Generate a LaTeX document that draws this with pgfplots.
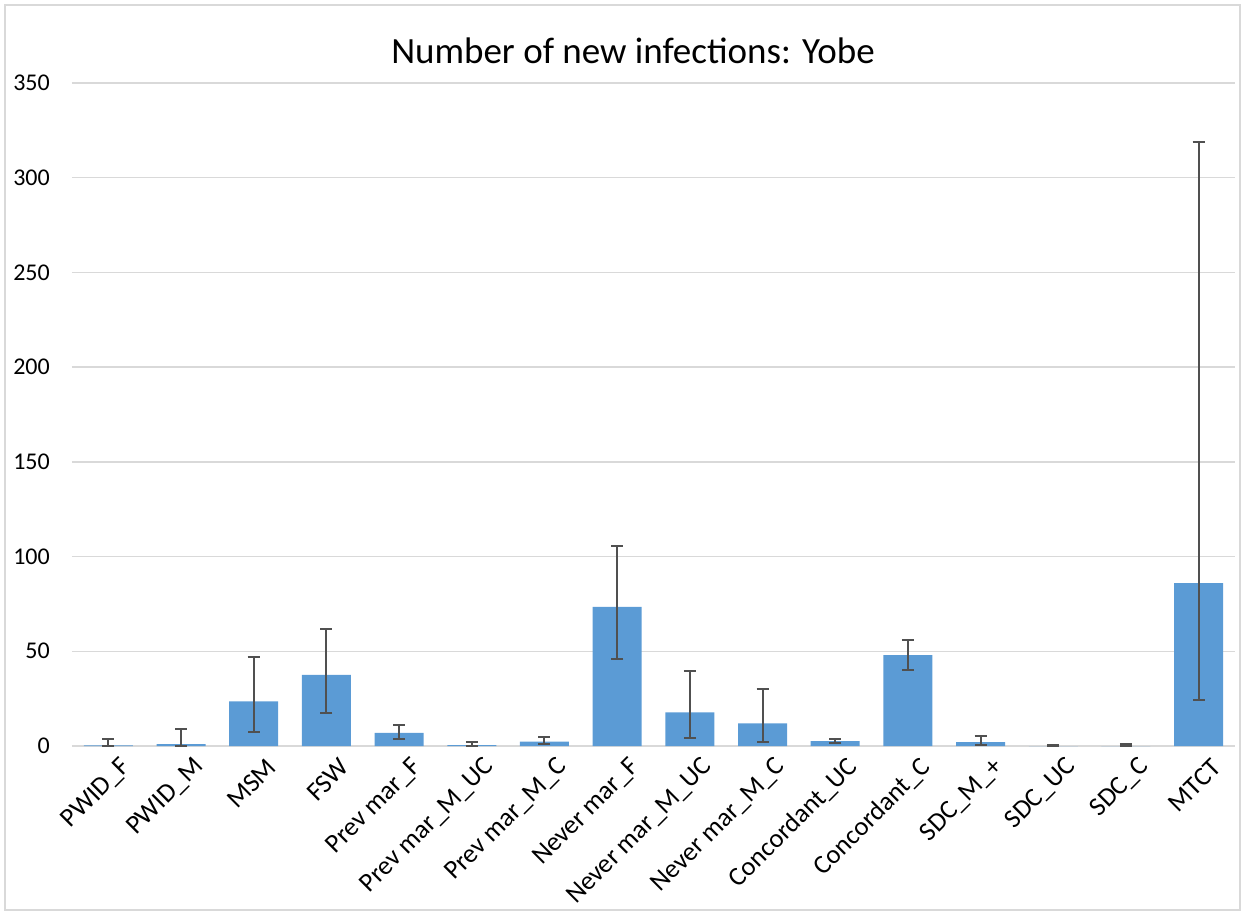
\documentclass[border=0pt]{standalone}
\usepackage{fontspec}
\setmainfont{Carlito}
\usepackage{pgfplots}
\pgfplotsset{compat=1.18}
\usepackage{pgfplotstable}
\definecolor{barblue}{HTML}{5B9BD5}
\definecolor{errgray}{HTML}{505050}
\definecolor{gridgray}{HTML}{D9D9D9}
\pgfplotstableread{
x y ep em
0 0.3 3.2 0.3
1 1.0 8.1 1.0
2 23.6 23.4 16.0
3 37.5 24.5 19.9
4 6.9 4.4 3.0
5 0.5 1.6 0.5
6 2.3 2.6 1.3
7 73.5 32.1 27.5
8 17.8 21.8 13.4
9 12.0 18.1 9.7
10 2.6 1.3 0.8
11 48.0 8.0 8.0
12 2.1 3.3 1.4
13 0.0 0.5 0.0
14 0.0 1.0 0.0
15 86.0 233.0 61.5
}\data
\begin{document}
\begin{tikzpicture}[x=1pt,y=1pt]
\useasboundingbox (-72,-165) rectangle (1169,746);
\draw[gridgray, line width=1.5pt] (-67,-164) rectangle (1168,741);
\begin{axis}[
  at={(0,0)}, anchor=south west, scale only axis,
  width=1163pt, height=663pt,
  xmin=-0.5, xmax=15.5, ymin=0, ymax=350,
  ytick={0,50,...,350},
  xtick={0,...,15},
  xticklabels={PWID\_F,PWID\_M,MSM,FSW,Prev mar\_F,Prev mar\_M\_UC,Prev mar\_M\_C,Never mar\_F,Never mar\_M\_UC,Never mar\_M\_C,Concordant\_UC,Concordant\_C,SDC\_M\_+,SDC\_UC,SDC\_C,MTCT},
  axis line style={draw=none},
  ymajorgrids, grid style={gridgray, line width=1.5pt},
  major tick length=0pt,
  yticklabel style={font=\fontsize{24}{28}\selectfont, inner sep=0pt, xshift=-22pt},
  /pgf/number format/assume math mode=true,
  xticklabel style={font=\fontsize{26.5}{30}\selectfont, rotate=45, anchor=east, inner sep=0pt, yshift=-25pt, xshift=1pt},
  clip=false,
]
\addplot[ybar, bar width=49pt, fill=barblue, draw=none,
  error bars/.cd, y dir=both, y explicit,
  error bar style={errgray, line width=2pt},
  error mark options={errgray, line width=2pt, mark size=6pt, rotate=90}]
  table[x=x, y=y, y error plus=ep, y error minus=em] {\data};
\end{axis}
\node[font=\fontsize{37}{44}\selectfont] at (561,695) {Number of new infections: Yobe};
\end{tikzpicture}
\end{document}
